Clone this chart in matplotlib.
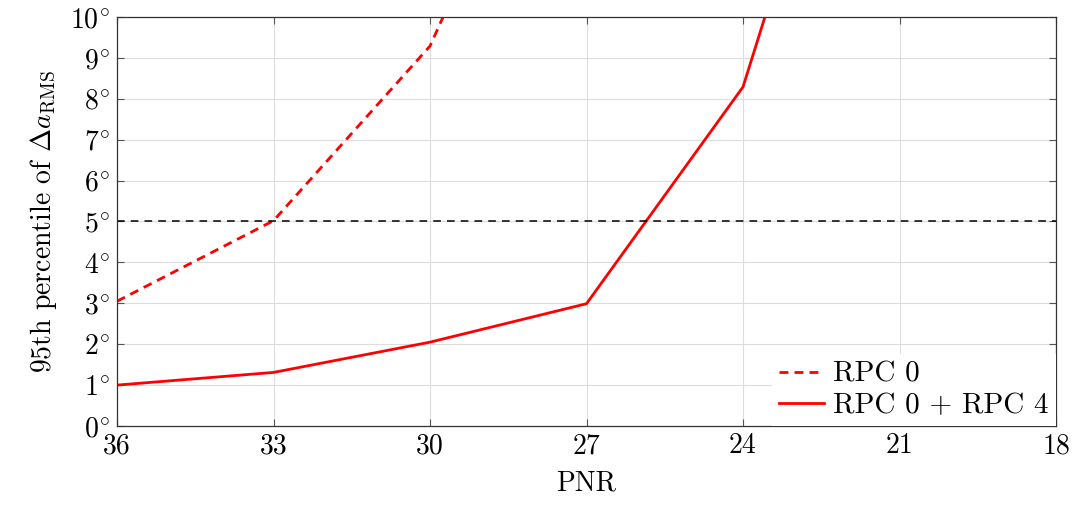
import matplotlib
matplotlib.use("Agg")
import matplotlib.pyplot as plt

pnr = [36, 33, 30, 27, 24, 21, 18]
rpc0 = [3.05, 5.02, 9.29, 17.8, None, None, None]
rpc04 = [1.0, 1.31, 2.05, 2.99, 8.29, 20.5, None]
threshold = 5
xticks = [36, 33, 30, 27, 24, 21, 18]
yticks = list(range(0, 11))

plt.rcParams['font.family'] = 'serif'
plt.rcParams['font.serif'] = ['cmr10']
plt.rcParams['mathtext.fontset'] = 'cm'
plt.rcParams['axes.unicode_minus'] = False

fig = plt.figure(figsize=(10.76, 5.05), dpi=100)
ax = fig.add_axes([117/1076, 1 - 426/505, (1056-117)/1076, (426-17)/505])

def clean(xs, ys):
    pts = [(x, y) for x, y in zip(xs, ys) if y is not None]
    return [p[0] for p in pts], [p[1] for p in pts]

x0, y0 = clean(pnr, rpc0)
x1, y1 = clean(pnr, rpc04)
ax.plot(x0, y0, color='red', lw=2, ls=(0, (3.2, 2.2)), label='RPC 0')
ax.plot(x1, y1, color='red', lw=2, label='RPC 0 + RPC 4')
ax.axhline(threshold, color='black', lw=1.1, ls=(0, (5, 4)))

ax.set_xlim(36, 18)
ax.set_ylim(0, 10)
ax.set_xticks(xticks)
ax.set_xticklabels([str(v) for v in xticks])
ax.set_yticks(yticks)
ax.set_yticklabels([r'$%d^{\circ}$' % v for v in yticks])
ax.grid(True, color='#dddddd', lw=0.8)
ax.set_axisbelow(True)
ax.tick_params(direction='in', length=5, width=0.8, color='#555555',
               top=True, right=True, labelsize=20, pad=5)
for s in ax.spines.values():
    s.set_linewidth(0.9)
    s.set_color('#333333')
    s.set_zorder(5)

ax.set_xlabel('PNR', fontsize=20, labelpad=8)
ax.set_ylabel(r'95th percentile of $\Delta a_{\mathrm{RMS}}$', fontsize=20, labelpad=8)

leg = ax.legend(loc='lower right', fontsize=21, frameon=True, fancybox=False,
                borderaxespad=0, handlelength=1.55, handletextpad=0.3,
                borderpad=0.25, labelspacing=0.15, framealpha=1)
leg.get_frame().set_edgecolor('none')
leg.get_frame().set_linewidth(0)

fig.savefig('out.png', dpi=100)
